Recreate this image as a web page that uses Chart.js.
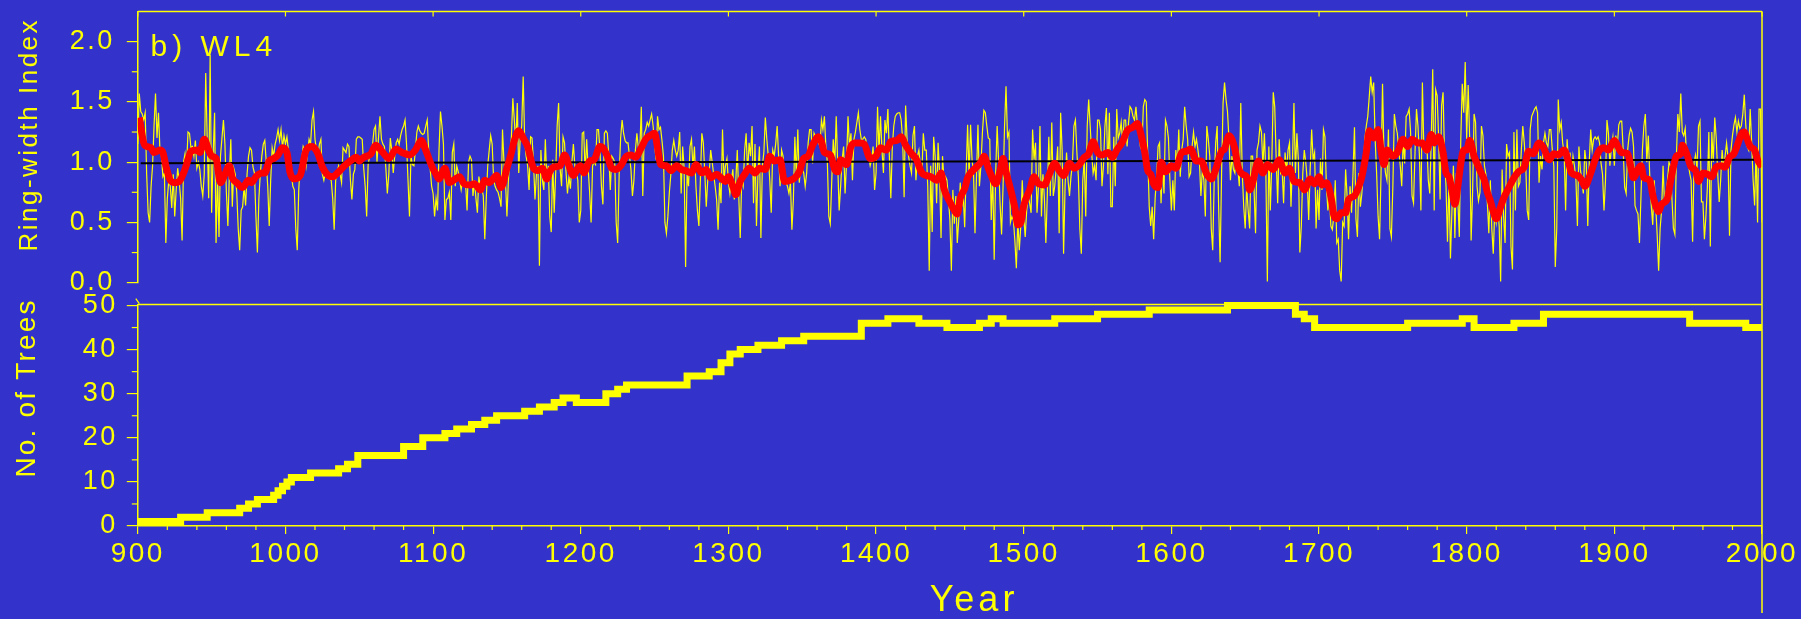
<!DOCTYPE html>
<html><head><meta charset="utf-8">
<script src="https://cdn.jsdelivr.net/npm/chart.js@4.4.1/dist/chart.umd.min.js"></script>
<style>
html,body{margin:0;padding:0;background:#3333CC;width:1801px;height:619px;overflow:hidden;}
#wrap{position:relative;width:1801px;height:619px;}
canvas{position:absolute;left:0;top:0;}
</style></head><body>
<div id="wrap">
<canvas id="topc" width="1801" height="619"></canvas>
<canvas id="botc" width="1801" height="619"></canvas>
</div>
<script>
// ---------- DATA ----------
const firstYear = 900;
// annual ring-width index, 900..2000
const ringVals = [
1.15,1.57,1.42,1.40,1.35,1.41,0.90,0.58,0.50,0.80,
0.97,1.30,1.57,1.20,1.41,1.10,1.05,0.88,0.91,0.33,
0.70,0.85,0.80,0.62,0.90,0.55,0.77,0.95,0.85,0.70,
0.35,1.00,1.07,0.95,1.25,1.24,1.12,1.13,1.05,1.18,
0.95,1.00,0.94,0.80,0.72,0.90,1.74,1.19,0.70,1.89,
0.58,1.05,1.41,0.33,0.90,0.38,1.05,1.20,1.35,1.15,
0.75,0.47,0.90,1.19,0.63,0.95,0.90,0.75,0.45,0.27,
0.60,0.63,0.80,0.64,0.90,1.05,1.12,1.10,0.96,0.91,
0.55,0.25,0.70,0.91,1.05,1.15,1.18,1.00,0.80,0.47,
0.85,1.12,1.05,1.15,1.20,1.27,1.18,1.27,1.12,1.22,
1.15,1.21,1.10,1.02,0.90,0.80,0.77,0.45,0.27,0.77,
0.98,1.02,1.13,1.10,0.97,1.08,1.19,1.15,1.35,1.42,
1.19,1.10,1.05,1.15,1.19,0.90,0.85,0.92,0.90,0.91,
0.86,0.85,0.70,0.44,0.85,0.92,0.97,0.90,0.83,1.12,
1.10,1.08,1.15,1.13,0.85,0.69,0.90,0.94,1.19,1.21,
1.21,1.20,1.19,0.95,0.80,0.55,0.98,1.05,1.10,1.15,
1.27,1.30,1.00,1.20,1.38,1.19,1.15,1.13,0.95,0.74,
0.90,1.20,1.10,0.91,1.05,1.16,1.19,1.15,1.22,1.27,
1.30,1.35,1.15,0.85,0.55,1.05,0.98,0.97,1.10,1.25,
1.30,1.26,1.24,1.23,1.24,1.30,1.35,1.10,0.95,0.80,
0.74,0.55,0.70,0.60,1.10,1.42,1.30,1.15,0.52,0.69,
0.70,0.75,0.52,1.08,1.15,0.80,0.97,0.92,0.85,0.77,
0.85,0.83,0.82,0.60,1.00,1.05,1.02,0.72,0.85,0.70,
0.58,0.88,0.80,0.78,0.72,0.36,0.70,0.97,1.10,1.22,
1.15,0.85,0.80,0.77,0.75,0.70,0.63,1.27,1.00,0.85,
0.55,0.85,1.05,1.20,1.53,1.35,1.15,1.49,0.91,1.21,
1.30,1.71,1.19,1.05,0.97,0.77,1.21,1.20,1.00,0.69,
0.90,0.97,0.14,1.10,0.85,0.77,1.19,0.85,0.97,0.55,
0.42,1.02,0.58,0.90,1.30,1.49,0.95,0.80,1.21,1.16,
0.92,0.74,0.88,0.78,1.00,1.15,0.97,0.92,0.85,0.50,
0.60,1.24,1.25,0.91,1.19,0.95,0.75,0.50,0.97,1.00,
0.98,1.27,1.27,1.10,0.80,0.65,1.24,1.26,1.24,1.05,
0.77,1.05,1.03,1.00,0.50,0.33,0.90,1.20,1.35,1.24,
1.18,1.16,1.16,1.05,0.94,0.72,0.85,1.10,1.24,1.12,
1.10,1.46,0.72,1.24,1.27,1.33,1.30,1.35,1.40,1.30,
1.15,1.02,1.38,1.27,1.29,1.18,1.05,0.50,0.41,0.55,
0.75,0.90,1.10,1.18,1.10,1.05,1.10,1.25,0.74,1.13,
0.95,0.13,0.90,0.80,1.13,1.19,0.95,1.13,0.80,0.60,
0.47,0.85,1.24,1.16,0.91,0.63,0.85,0.91,1.10,1.00,
0.90,0.80,0.69,0.44,0.83,0.66,1.27,0.85,0.97,1.03,
0.83,0.74,0.85,0.94,0.69,0.85,1.10,0.72,0.37,0.85,
0.80,1.10,1.24,0.90,1.16,1.05,1.30,0.66,1.15,0.47,
0.90,1.13,0.37,0.97,1.08,1.37,1.19,1.05,0.85,0.58,
1.10,1.05,1.15,1.30,1.05,0.80,1.10,1.05,0.85,0.83,
0.80,0.74,0.83,0.44,0.69,1.21,0.88,1.27,0.83,0.97,
0.94,0.91,0.80,0.91,1.16,1.27,1.27,0.99,1.24,1.21,
1.19,1.16,1.13,1.35,1.27,1.38,1.13,1.00,0.55,0.49,
0.85,1.19,0.97,1.38,0.99,0.60,0.80,1.02,1.13,0.74,
0.99,1.38,1.13,1.24,0.85,1.19,1.25,1.33,1.41,1.27,
1.19,1.19,1.21,1.19,1.10,1.05,0.97,1.02,1.13,0.77,
0.91,1.46,1.10,1.38,1.10,0.91,1.35,1.24,1.44,1.05,
0.70,1.13,1.30,1.38,1.40,1.41,1.41,1.35,1.19,0.71,
1.47,1.19,1.05,0.97,0.91,1.22,1.30,0.85,1.05,1.10,
0.97,0.91,1.24,1.10,1.10,0.80,0.10,0.97,0.42,1.21,
1.05,0.66,1.16,0.91,0.37,1.05,0.85,0.88,0.85,0.70,
0.52,0.10,0.77,0.49,0.72,0.33,0.52,0.83,0.63,0.74,
0.46,0.91,1.31,0.88,1.31,1.02,0.91,0.41,0.88,1.31,
0.80,0.97,1.24,1.43,1.41,1.30,1.20,1.19,0.52,0.91,
0.19,0.91,1.30,1.00,0.65,0.40,0.80,1.29,1.63,1.21,
1.25,0.50,0.55,0.52,0.35,0.12,0.52,0.27,0.47,0.85,
0.55,0.38,0.60,0.72,0.66,0.58,1.27,1.02,1.16,0.58,
0.80,1.30,0.55,0.90,0.70,0.33,0.74,1.21,0.72,1.33,
0.72,0.80,0.95,1.13,0.41,1.41,1.10,0.24,0.80,1.08,
0.85,0.72,0.88,0.99,1.30,1.35,1.08,0.88,0.45,0.24,
0.85,1.02,0.55,1.30,1.52,1.30,1.08,0.91,0.97,0.85,
1.35,1.35,1.27,0.80,0.97,1.30,1.45,0.90,1.41,0.63,
0.63,1.21,0.80,1.44,1.20,1.24,1.33,1.16,1.35,1.35,
1.13,1.33,1.46,1.44,1.38,1.35,1.46,1.30,1.27,1.13,
1.10,1.46,1.52,1.50,1.05,0.63,0.47,0.63,0.36,0.70,
0.88,1.13,1.16,0.66,0.99,0.74,1.35,1.30,1.20,0.85,
0.60,0.85,0.60,1.10,0.95,1.27,0.88,1.10,1.19,1.46,
1.30,1.19,0.88,0.91,1.13,1.25,1.13,1.19,1.10,1.00,
0.72,0.94,0.85,0.55,1.30,1.19,1.05,0.45,0.27,0.85,
1.16,1.30,0.63,0.17,0.91,1.49,1.66,1.52,1.42,1.19,
0.85,1.05,0.94,0.91,1.10,0.95,0.80,1.49,0.91,0.63,
0.45,0.80,0.60,0.45,1.05,1.05,0.77,0.41,1.10,1.16,
1.30,1.25,0.97,1.24,0.90,0.01,1.13,0.60,0.99,1.58,
1.46,1.02,0.66,1.19,0.91,0.94,0.66,1.08,0.91,1.10,
1.16,0.63,1.00,1.49,0.91,1.24,1.02,0.25,0.47,0.91,
1.10,1.00,0.85,0.52,0.94,1.27,1.02,1.08,0.45,0.77,
0.52,1.03,0.77,1.27,1.21,0.80,0.60,0.75,0.47,0.44,
0.55,0.85,0.33,0.36,0.10,0.01,0.50,0.47,0.94,0.72,
0.36,0.80,0.58,0.90,1.29,0.53,0.38,0.91,0.63,0.74,
0.94,1.19,1.30,1.38,1.54,1.71,1.58,1.66,1.19,0.91,
0.55,0.36,0.91,1.65,1.05,0.91,0.85,1.27,0.45,0.38,
0.80,1.40,1.30,1.24,1.10,0.97,0.80,1.19,0.99,1.38,
1.40,1.44,1.25,0.72,0.66,1.08,1.44,1.30,1.05,0.60,
1.66,1.10,1.08,1.16,0.85,0.74,1.19,1.77,0.60,1.60,
1.55,1.20,0.69,1.47,1.58,1.05,0.80,0.34,0.86,0.20,
0.60,0.97,0.37,0.91,0.69,0.38,1.19,1.65,1.41,1.83,
1.19,1.64,1.20,0.35,0.75,1.40,1.33,0.80,0.68,0.75,
1.30,1.22,0.97,0.90,0.66,0.41,0.85,0.45,0.24,0.60,
0.50,0.63,0.47,0.01,0.94,0.55,0.33,1.15,1.05,1.08,
0.30,0.11,1.25,0.60,1.27,0.80,0.83,1.10,1.30,1.16,
0.97,0.60,0.52,1.27,1.38,1.41,1.44,1.46,1.41,0.83,
1.05,0.94,1.16,1.24,1.16,1.13,1.27,1.27,1.10,0.97,
0.13,0.45,1.52,1.27,1.33,1.16,1.08,0.60,1.19,0.99,
1.08,0.88,1.05,0.97,0.85,0.47,1.13,0.94,0.85,0.74,
1.10,0.99,0.47,1.00,1.27,1.10,1.19,1.21,1.19,1.21,
1.16,0.99,0.90,0.60,0.85,1.35,1.24,0.97,1.13,1.21,
0.97,1.22,1.13,1.31,1.34,1.34,1.10,0.79,0.74,1.10,
1.22,1.28,1.25,1.13,0.64,0.60,0.57,0.33,0.70,1.10,
1.30,1.40,1.00,1.22,0.88,0.64,0.48,0.85,0.64,0.40,
0.10,0.45,0.60,0.97,0.64,0.73,0.85,1.00,0.97,0.70,
0.45,0.40,1.04,1.40,1.25,1.57,1.25,1.22,1.28,1.00,
1.00,0.91,0.85,0.34,1.00,1.06,0.94,1.30,1.34,0.67,
0.67,0.36,0.55,0.79,1.25,0.30,1.25,1.00,1.37,1.20,
0.91,0.67,0.85,1.10,0.94,1.05,1.16,1.04,0.39,1.10,
1.22,1.31,1.37,1.25,1.34,1.28,1.30,1.40,1.56,1.31,
1.13,1.10,1.44,1.16,0.85,0.64,1.10,0.50,1.44,1.44,
0.50
];

// smoothed ring-width curve (red)
const smoothYears = [901,904,906,909,911,915,917,919,922,925,928,931,933,936,940,942,945,948,950,953,956,959,962,964,967,971,975,977,980,984,986,989,992,995,998,1001,1003,1006,1010,1014,1018,1022,1025,1029,1032,1036,1040,1044,1048,1050,1053,1058,1061,1066,1070,1075,1079,1084,1088,1092,1095,1099,1102,1104,1108,1111,1115,1118,1121,1125,1128,1132,1135,1138,1143,1146,1150,1153,1155,1158,1161,1164,1168,1171,1174,1177,1179,1182,1186,1189,1192,1195,1198,1200,1202,1206,1209,1213,1215,1218,1221,1224,1227,1231,1234,1237,1241,1244,1247,1250,1252,1254,1258,1261,1265,1268,1271,1275,1278,1282,1285,1288,1292,1295,1298,1300,1303,1305,1308,1311,1314,1318,1321,1325,1328,1331,1335,1338,1342,1345,1348,1351,1354,1357,1361,1363,1365,1369,1372,1374,1376,1380,1383,1386,1389,1392,1396,1400,1403,1407,1410,1414,1417,1420,1424,1427,1431,1434,1437,1441,1444,1446,1450,1453,1455,1457,1460,1462,1464,1468,1471,1473,1476,1478,1481,1484,1486,1488,1491,1494,1496,1498,1500,1504,1507,1510,1514,1517,1521,1524,1527,1531,1534,1537,1541,1544,1547,1550,1553,1557,1560,1563,1567,1570,1574,1577,1579,1582,1584,1586,1588,1591,1593,1596,1600,1603,1607,1610,1613,1617,1620,1624,1627,1630,1634,1636,1639,1643,1645,1648,1651,1653,1655,1659,1662,1665,1669,1673,1677,1680,1683,1687,1690,1694,1697,1700,1702,1705,1708,1710,1712,1715,1718,1720,1724,1727,1729,1732,1734,1737,1740,1742,1744,1746,1750,1753,1757,1760,1763,1767,1770,1773,1776,1778,1781,1784,1786,1788,1790,1792,1794,1796,1798,1800,1802,1805,1807,1809,1812,1814,1816,1818,1820,1823,1825,1829,1832,1835,1839,1842,1845,1849,1852,1856,1859,1862,1866,1869,1871,1875,1878,1880,1884,1887,1890,1893,1896,1900,1902,1905,1909,1911,1913,1916,1918,1920,1924,1926,1928,1930,1932,1936,1938,1940,1942,1945,1946,1949,1952,1955,1957,1960,1963,1966,1969,1972,1975,1978,1981,1983,1986,1988,1990,1992,1995,1997,2000];
const smoothVals = [1.37,1.16,1.13,1.12,1.08,1.10,1.08,0.97,0.85,0.83,0.84,0.91,0.98,1.09,1.10,1.08,1.19,1.10,1.05,1.03,0.83,0.90,0.97,0.87,0.83,0.79,0.85,0.83,0.88,0.91,0.91,1.01,1.03,1.06,1.12,1.08,0.92,0.86,0.89,1.10,1.13,1.07,0.96,0.89,0.88,0.92,0.97,1.01,1.04,1.01,1.04,1.07,1.14,1.08,1.03,1.11,1.08,1.06,1.10,1.18,1.10,0.97,0.90,0.86,0.95,0.83,0.86,0.88,0.82,0.81,0.82,0.77,0.85,0.83,0.89,0.79,0.95,1.08,1.18,1.26,1.20,1.13,0.95,0.93,0.95,0.86,0.92,0.96,0.97,1.06,0.97,0.89,0.95,0.97,0.91,1.01,1.02,1.13,1.12,1.05,0.95,0.94,0.97,1.05,1.06,1.04,1.12,1.19,1.22,1.24,1.12,0.98,0.97,0.93,0.97,0.94,0.93,0.91,0.98,0.91,0.94,0.87,0.90,0.87,0.84,0.88,0.80,0.73,0.84,0.90,0.95,0.91,0.95,0.94,1.05,1.01,1.02,0.84,0.85,0.87,0.92,1.03,1.05,1.14,1.21,1.17,1.08,1.06,0.94,0.92,1.02,0.98,1.13,1.16,1.16,1.15,1.03,1.05,1.12,1.10,1.17,1.18,1.21,1.14,1.07,1.03,0.91,0.89,0.88,0.85,0.91,0.78,0.67,0.60,0.57,0.70,0.78,0.87,0.91,0.96,1.00,1.05,0.95,0.89,0.82,0.93,1.03,0.92,0.78,0.62,0.48,0.50,0.64,0.77,0.88,0.82,0.81,0.89,0.99,0.93,0.89,0.99,0.95,0.97,1.04,1.07,1.17,1.08,1.06,1.08,1.04,1.10,1.17,1.26,1.29,1.32,1.25,1.08,0.93,0.90,0.82,0.79,1.00,0.92,0.97,0.95,1.08,1.09,1.11,1.01,1.01,0.90,0.86,0.94,1.09,1.11,1.22,1.11,0.97,0.90,0.88,0.77,0.83,1.01,0.91,0.98,0.94,1.02,0.91,0.95,0.84,0.83,0.77,0.86,0.82,0.88,0.81,0.83,0.72,0.56,0.53,0.58,0.58,0.69,0.72,0.80,0.88,1.08,1.26,1.20,1.27,1.10,0.98,1.10,1.05,1.08,1.19,1.13,1.19,1.16,1.16,1.10,1.23,1.16,1.21,1.08,0.91,0.88,0.77,0.65,0.80,0.99,1.10,1.10,1.18,1.05,0.99,0.93,0.85,0.75,0.68,0.59,0.53,0.63,0.70,0.80,0.87,0.92,0.96,1.09,1.07,1.16,1.12,1.02,1.07,1.06,1.10,1.00,0.91,0.89,0.85,0.80,0.91,1.02,1.10,1.12,1.10,1.18,1.14,1.08,1.07,0.97,0.87,0.94,0.97,0.87,0.85,0.73,0.64,0.59,0.65,0.70,0.84,0.96,1.05,1.07,1.14,1.07,0.96,0.93,0.84,0.91,0.90,0.88,0.96,0.97,0.96,1.04,1.07,1.13,1.23,1.25,1.19,1.13,1.10,1.02,0.96];

// reference (trend) line
const refYears = [902, 1995];
const refVals = [0.99, 1.02];

// sample depth: year where count changes, and the count from then on
const treeYears  = [900,929,947,969,975,981,992,995,998,1001,1004,1017,1036,1042,1049,1080,1093,1108,1116,1126,1135,1143,1162,1172,1182,1188,1197,1217,1225,1231,1272,1287,1295,1301,1308,1320,1336,1351,1390,1408,1429,1448,1470,1478,1486,1521,1550,1585,1638,1684,1690,1697,1760,1797,1805,1832,1852,1951,1989,2000];
const treeCounts = [1,2,3,4,5,6,7,8,9,10,11,12,13,14,16,18,20,21,22,23,24,25,26,27,28,29,28,30,31,32,34,35,37,39,40,41,42,43,46,47,46,45,46,47,46,47,48,49,50,48,47,45,46,47,45,46,48,46,45,45];

// axis ranges / tick labels
const yearMin = 900, yearMax = 2000, yearStep = 100, yearMinorStep = 20;
const ringMin = 0, ringMax = 2.25, ringStep = 0.5, ringMinorStep = 0.25;
const treeMin = 0, treeMax = 50.25, treeStep = 10, treeMinorStep = 5;

// ---------- STYLE ----------
const YEL = '#FFFF00', RED = '#FF0000';
const FONT = "'Liberation Sans', Arial, sans-serif";
const AXIS_LEFT = 137.8;

Chart.defaults.font.family = FONT;
Chart.defaults.color = YEL;

function txt(ctx, s, x, y, size, spacing, align, rot) {
  ctx.save();
  ctx.translate(x, y);
  if (rot) ctx.rotate(rot);
  ctx.font = size + 'px ' + FONT;
  ctx.fillStyle = YEL;
  ctx.textAlign = align;
  ctx.textBaseline = 'alphabetic';
  ctx.letterSpacing = spacing + 'px';
  ctx.fillText(s, align === 'center' ? spacing / 2 : 0, 0);
  ctx.restore();
}
function line(ctx, x1, y1, x2, y2, w) {
  ctx.beginPath(); ctx.moveTo(x1, y1); ctx.lineTo(x2, y2);
  ctx.lineWidth = w; ctx.strokeStyle = YEL; ctx.stroke();
}
const spacingPlugin = {
  id: 'spacing',
  beforeDraw(chart) { chart.ctx.letterSpacing = '2.5px'; },
};
function fixY(s) { s.width = AXIS_LEFT; s.paddingTop = 0; s.paddingBottom = 0; }

// ---------- TOP PANEL ----------
const topPlugin = {
  id: 'topDeco',
  afterDraw(chart) {
    const ctx = chart.ctx, a = chart.chartArea, xs = chart.scales.x, ys = chart.scales.y;
    ctx.save();
    ctx.letterSpacing = '0px';
    line(ctx, a.left, a.top, a.right, a.top, 1.5);
    line(ctx, a.right, a.top, a.right, 613, 1.5);
    for (let yv = yearMin; yv <= yearMax; yv += yearStep) {
      const px = xs.getPixelForValue(yv);
      line(ctx, px, a.top, px, a.top + 5, 1.2);
    }
    for (let v = ringMin + ringMinorStep; v < ringMax; v += ringStep) {
      const py = ys.getPixelForValue(v);
      line(ctx, a.left - 6, py, a.left, py, 1.2);
    }
    // axis break mark
    line(ctx, a.left - 2, a.bottom + 16, a.left + 1.5, a.bottom + 21, 1.2);
    ctx.restore();
    txt(ctx, 'Ring-width Index', 37, 136, 26, 2.5, 'center', -Math.PI / 2);
    txt(ctx, 'b) WL4', 150.5, 56, 30, 5, 'left', 0);
  }
};

new Chart(document.getElementById('topc'), {
  type: 'line',
  data: {
    datasets: [
      { data: smoothYears.map((x, i) => ({ x, y: smoothVals[i] })), borderColor: RED, borderWidth: 7, pointRadius: 0, cubicInterpolationMode: 'monotone', borderJoinStyle: 'round' },
      { data: refYears.map((x, i) => ({ x, y: refVals[i] })), borderColor: '#000000', borderWidth: 2, pointRadius: 0 },
      { data: ringVals.map((v, i) => ({ x: firstYear + i, y: v })), borderColor: YEL, borderWidth: 1.2, pointRadius: 0, tension: 0 }
    ]
  },
  options: {
    responsive: false, animation: false, events: [],
    layout: { padding: { left: 0, top: 11.5, right: 39, bottom: 619 - 282.7 } },
    plugins: { legend: { display: false }, tooltip: { enabled: false } },
    scales: {
      x: { type: 'linear', min: yearMin, max: yearMax, display: false },
      y: {
        type: 'linear', min: ringMin, max: ringMax,
        afterFit: fixY,
        ticks: { stepSize: ringStep, includeBounds: false, color: YEL, font: { size: 27, family: FONT }, padding: 12,
                 callback: v => v.toFixed(1) },
        grid: { drawOnChartArea: false, drawTicks: true, tickLength: 11, color: YEL, lineWidth: 1.2 },
        border: { display: true, color: YEL, width: 1.5 }
      }
    }
  },
  plugins: [spacingPlugin, topPlugin]
});

// ---------- BOTTOM PANEL ----------
const botPlugin = {
  id: 'botDeco',
  afterDraw(chart) {
    const ctx = chart.ctx, a = chart.chartArea, xs = chart.scales.x, ys = chart.scales.y;
    ctx.save();
    ctx.letterSpacing = '0px';
    line(ctx, a.left, a.top, a.right, a.top, 1.5);
    for (let v = treeMin + treeMinorStep; v < treeMax; v += treeStep) {
      const py = ys.getPixelForValue(v);
      line(ctx, a.left - 6, py, a.left, py, 1.2);
    }
    for (let yv = yearMin; yv <= yearMax; yv += yearMinorStep) {
      if (yv % yearStep === 0) continue;
      const px = xs.getPixelForValue(yv);
      line(ctx, px, a.bottom, px, a.bottom + 4, 1.2);
    }
    ctx.restore();
    txt(ctx, 'No. of Trees', 34.5, 389, 28, 2.2, 'center', -Math.PI / 2);
    txt(ctx, 'Year', 972, 611, 36, 4, 'center', 0);
  }
};

new Chart(document.getElementById('botc'), {
  type: 'line',
  data: {
    datasets: [
      { data: treeYears.map((x, i) => ({ x, y: treeCounts[i] })), borderColor: YEL, borderWidth: 7, pointRadius: 0, stepped: 'before', clip: false }
    ]
  },
  options: {
    responsive: false, animation: false, events: [],
    layout: { padding: { left: 0, top: 304.4, right: 39, bottom: 0 } },
    plugins: { legend: { display: false }, tooltip: { enabled: false } },
    scales: {
      x: {
        type: 'linear', min: yearMin, max: yearMax,
        afterFit(s) { s.height = 619 - 526; s.paddingLeft = 0; s.paddingRight = 0; },
        ticks: { stepSize: yearStep, includeBounds: false, color: YEL, font: { size: 28, family: FONT }, padding: 3, maxRotation: 0, autoSkip: false,
                 callback: v => String(v) },
        grid: { drawOnChartArea: false, drawTicks: true, tickLength: 8, color: YEL, lineWidth: 1.2 },
        border: { display: true, color: YEL, width: 1.5 }
      },
      y: {
        type: 'linear', min: treeMin, max: treeMax,
        afterFit: fixY,
        ticks: { stepSize: treeStep, includeBounds: false, color: YEL, font: { size: 27, family: FONT }, padding: 9,
                 callback: v => String(v) },
        grid: { drawOnChartArea: false, drawTicks: true, tickLength: 11, color: YEL, lineWidth: 1.2 },
        border: { display: true, color: YEL, width: 1.5 }
      }
    }
  },
  plugins: [spacingPlugin, botPlugin]
});
</script>
</body></html>
